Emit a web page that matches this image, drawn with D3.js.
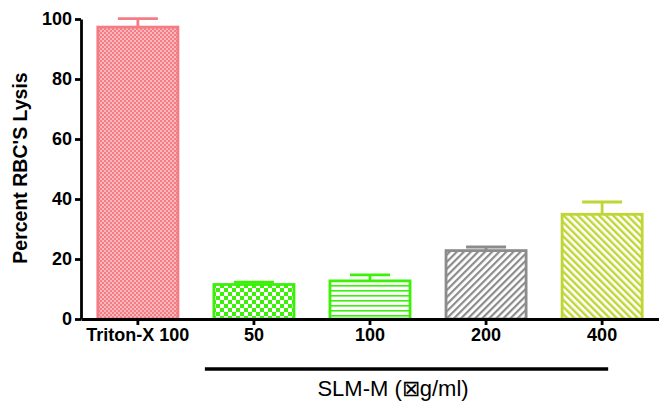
<!DOCTYPE html>
<html><head><meta charset="utf-8">
<script src="https://cdn.jsdelivr.net/npm/d3@7"></script>
<style>html,body{margin:0;padding:0;background:#fff;}svg{display:block;}</style>
</head><body>
<svg id="chart" width="659" height="401"></svg>
<script>
const categories = ["Triton-X 100", "50", "100", "200", "400"];
const values = [97.3, 11.5, 12.7, 22.8, 34.9];
const errors = [2.8, 0.8, 2.0, 1.2, 4.1];
const yTicks = [0, 20, 40, 60, 80, 100];
const yTitle = "Percent RBC'S Lysis";
const xTitle = "SLM-M (\u22A0g/ml)";
const colors = ["#F47C84", "#3CF00A", "#3CF00A", "#8C8C8C", "#BFD634"];
const patternIds = ["pTriton", "p50", "p100", "p200", "p400"];

const svg = d3.select("#chart");
const defs = svg.append("defs");
let p = defs.append("pattern").attr("id","pTriton").attr("patternUnits","userSpaceOnUse").attr("width",4).attr("height",4);
p.append("rect").attr("width",4).attr("height",4).attr("fill","#fff");
p.append("rect").attr("width",2).attr("height",2).attr("fill",colors[0]);
p.append("rect").attr("x",2).attr("y",2).attr("width",2).attr("height",2).attr("fill",colors[0]);
p.append("rect").attr("x",2).attr("y",0).attr("width",2).attr("height",2).attr("fill","#F9B8BC");
p.append("rect").attr("x",0).attr("y",2).attr("width",2).attr("height",2).attr("fill","#F9B8BC");
p = defs.append("pattern").attr("id","p50").attr("patternUnits","userSpaceOnUse").attr("width",8).attr("height",8);
p.append("rect").attr("width",8).attr("height",8).attr("fill","#fff");
p.append("rect").attr("width",4).attr("height",4).attr("fill",colors[1]);
p.append("rect").attr("x",4).attr("y",4).attr("width",4).attr("height",4).attr("fill",colors[1]);
p = defs.append("pattern").attr("id","p100").attr("patternUnits","userSpaceOnUse").attr("width",8).attr("height",5);
p.append("rect").attr("width",8).attr("height",5).attr("fill","#fff");
p.append("rect").attr("y",0).attr("width",8).attr("height",1.6).attr("fill",colors[2]);
p = defs.append("pattern").attr("id","p200").attr("patternUnits","userSpaceOnUse").attr("width",5).attr("height",5).attr("patternTransform","rotate(45)");
p.append("rect").attr("width",5).attr("height",5).attr("fill","#fff");
p.append("rect").attr("width",2.2).attr("height",5).attr("fill",colors[3]);
p = defs.append("pattern").attr("id","p400").attr("patternUnits","userSpaceOnUse").attr("width",5).attr("height",5).attr("patternTransform","rotate(-45)");
p.append("rect").attr("width",5).attr("height",5).attr("fill","#fff");
p.append("rect").attr("width",2.4).attr("height",5).attr("fill",colors[4]);

const x = d3.scaleBand().domain(categories).range([81, 659]).paddingInner(0.31).paddingOuter(0.145);
const y = d3.scaleLinear().domain([0, 100]).range([319, 19]);

const g = svg.append("g");
categories.forEach((c, i) => {
  const x0 = x(c), bw = x.bandwidth(), cx = x0 + bw / 2;
  g.append("line").attr("x1", cx).attr("x2", cx).attr("y1", y(values[i])).attr("y2", y(values[i] + errors[i]))
    .attr("stroke", colors[i]).attr("stroke-width", 2.8);
  g.append("line").attr("x1", cx - 20).attr("x2", cx + 20).attr("y1", y(values[i] + errors[i])).attr("y2", y(values[i] + errors[i]))
    .attr("stroke", colors[i]).attr("stroke-width", 2.8);
  g.append("rect").attr("x", x0).attr("y", y(values[i])).attr("width", bw).attr("height", y(0) - y(values[i]))
    .attr("fill", "url(#" + patternIds[i] + ")").attr("stroke", colors[i]).attr("stroke-width", 2.8);
});

const font = "Liberation Sans, Arial, sans-serif";
const yAxis = svg.append("g").attr("transform", "translate(81,0)")
  .call(d3.axisLeft(y).tickValues(yTicks).tickSize(6).tickPadding(3).tickSizeOuter(0));
yAxis.select(".domain").attr("stroke", "#000").attr("stroke-width", 2.8);
yAxis.selectAll(".tick line").attr("stroke", "#000").attr("stroke-width", 2.8);
yAxis.selectAll(".tick text").attr("font-family", font).attr("font-weight", "bold").attr("font-size", 18).attr("fill", "#000");

const xAxis = svg.append("g").attr("transform", "translate(0,319)")
  .call(d3.axisBottom(x).tickSize(6).tickPadding(3).tickSizeOuter(0));
xAxis.select(".domain").attr("stroke", "#000").attr("stroke-width", 2.8);
xAxis.selectAll(".tick line").attr("stroke", "#000").attr("stroke-width", 2.8);
xAxis.selectAll(".tick text").attr("font-family", font).attr("font-weight", "bold").attr("font-size", 18).attr("fill", "#000");

svg.append("text").attr("transform", "translate(27,168) rotate(-90)").attr("text-anchor", "middle")
  .attr("font-family", font).attr("font-weight", "bold").attr("font-size", 19.5).text(yTitle);

const xs = categories.slice(1);
svg.append("line").attr("x1", x(xs[0]) - 9).attr("x2", x(xs[xs.length - 1]) + x.bandwidth() - 34)
  .attr("y1", 369).attr("y2", 369).attr("stroke", "#000").attr("stroke-width", 3.5);
svg.append("text").attr("x", 393).attr("y", 396).attr("text-anchor", "middle")
  .attr("font-family", font).attr("font-size", 22).text(xTitle);
</script>
</body></html>
